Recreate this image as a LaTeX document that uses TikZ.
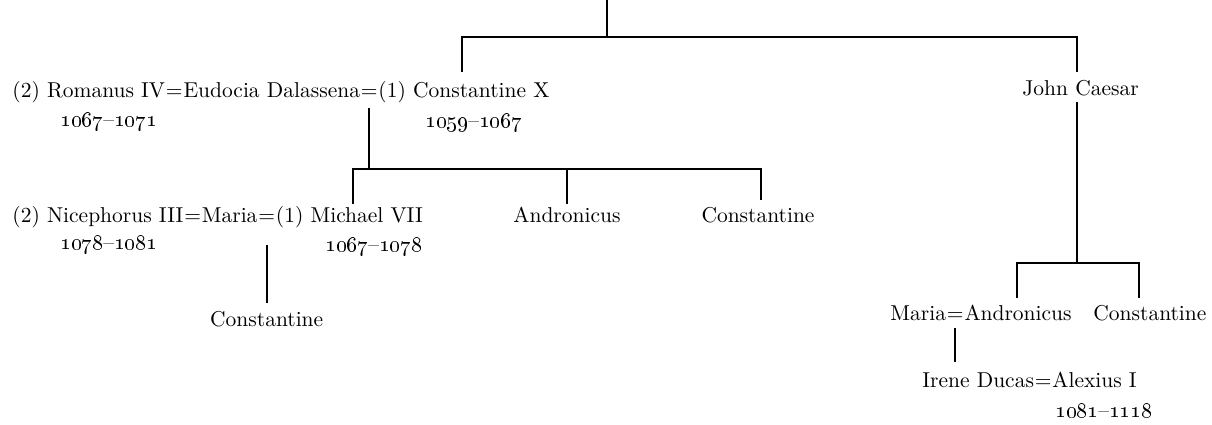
\documentclass[tikz,border=0pt]{standalone}
\begin{document}
\begin{tikzpicture}[x=1pt,y=-1pt,
  every node/.style={inner sep=0pt, scale=2.15},
  nm/.style={anchor=base west},
  ctr/.style={anchor=base},
  ln/.style={line width=1.7pt}]
\useasboundingbox (0,0) rectangle (1212,425);
% row 1
\node[nm] (rom) at (12,98) {(2) Romanus IV};
\node[nm] (eqa) at (rom.base east) {=};
\node[nm] (eud) at (eqa.base east) {Eudocia Dalassena};
\node[nm] (eqb) at (eud.base east) {=};
\node[nm] (conx) at (eqb.base east) {(1) Constantine X};
\node[nm] (jc) at (1022,96) {John Caesar};
\node[nm] (d1) at (60,127) {\oldstylenums{1067}--\oldstylenums{1071}};
\node[nm] (d2) at (425,128) {\oldstylenums{1059}--\oldstylenums{1067}};
% row 2
\node[nm] (nic) at (12,222) {(2) Nicephorus III};
\node[nm] (eqc) at (nic.base east) {=};
\node[nm] (mar) at (eqc.base east) {Maria};
\node[nm] (eqd) at (mar.base east) {=};
\node[nm] (mic) at (eqd.base east) {(1) Michael VII};
\node[ctr] (and) at (567,222) {Andronicus};
\node[ctr] (con2) at (758,222) {Constantine};
\node[nm] (d3) at (60,249) {\oldstylenums{1078}--\oldstylenums{1081}};
\node[nm] (d4) at (325,251) {\oldstylenums{1067}--\oldstylenums{1078}};
\coordinate (r3) at (0,326);
\node[ctr] (con3) at (eqd.base |- r3) {Constantine};
% bottom right
\node[nm] (mar2) at (890,320) {Maria};
\node[nm] (eqe) at (mar2.base east) {=};
\node[nm] (and2) at (eqe.base east) {Andronicus};
\node[nm] (con4) at (1093,320) {Constantine};
\node[nm] (ire) at (922,387) {Irene Ducas};
\node[nm] (eqf) at (ire.base east) {=};
\node[nm] (ale) at (eqf.base east) {Alexius I};
\node[nm] (d5) at (1055,417) {\oldstylenums{1081}--\oldstylenums{1118}};
% connectors
\coordinate (top) at (607,0);
\coordinate (j0) at (607,37);
\coordinate (c1) at (462,37);
\coordinate (c2) at (1077,37);
\coordinate (r1) at (0,72);
\draw[ln] (top) -- (j0);
\draw[ln] (c1 |- r1) -- (c1) -- (c2) -- (c2 |- r1);
\coordinate (c3) at (1077,263);
\coordinate (r2) at (0,102);
\draw[ln] (c3 |- r2) -- (c3);
\coordinate (b3l) at (1017,263);
\coordinate (b3r) at (1139,263);
\coordinate (r4) at (0,298);
\draw[ln] (b3l |- r4) -- (b3l) -- (b3r) -- (b3r |- r4);
\coordinate (r5) at (0,328);
\coordinate (r6) at (0,362);
\draw[ln] (eqe.base |- r5) -- (eqe.base |- r6);
\coordinate (b2l) at (353,169);
\coordinate (b2r) at (761,169);
\coordinate (r7) at (0,108);
\draw[ln] (eqb.base |- r7) -- (eqb.base |- b2l);
\coordinate (r8) at (0,204);
\coordinate (r9) at (0,200);
\draw[ln] (b2l |- r8) -- (b2l) -- (b2r) -- (b2r |- r9);
\draw[ln] (and.base |- r8) -- (and.base |- b2l);
\coordinate (r10) at (0,245);
\coordinate (r11) at (0,303);
\draw[ln] (eqd.base |- r10) -- (eqd.base |- r11);
\end{tikzpicture}
\end{document}
